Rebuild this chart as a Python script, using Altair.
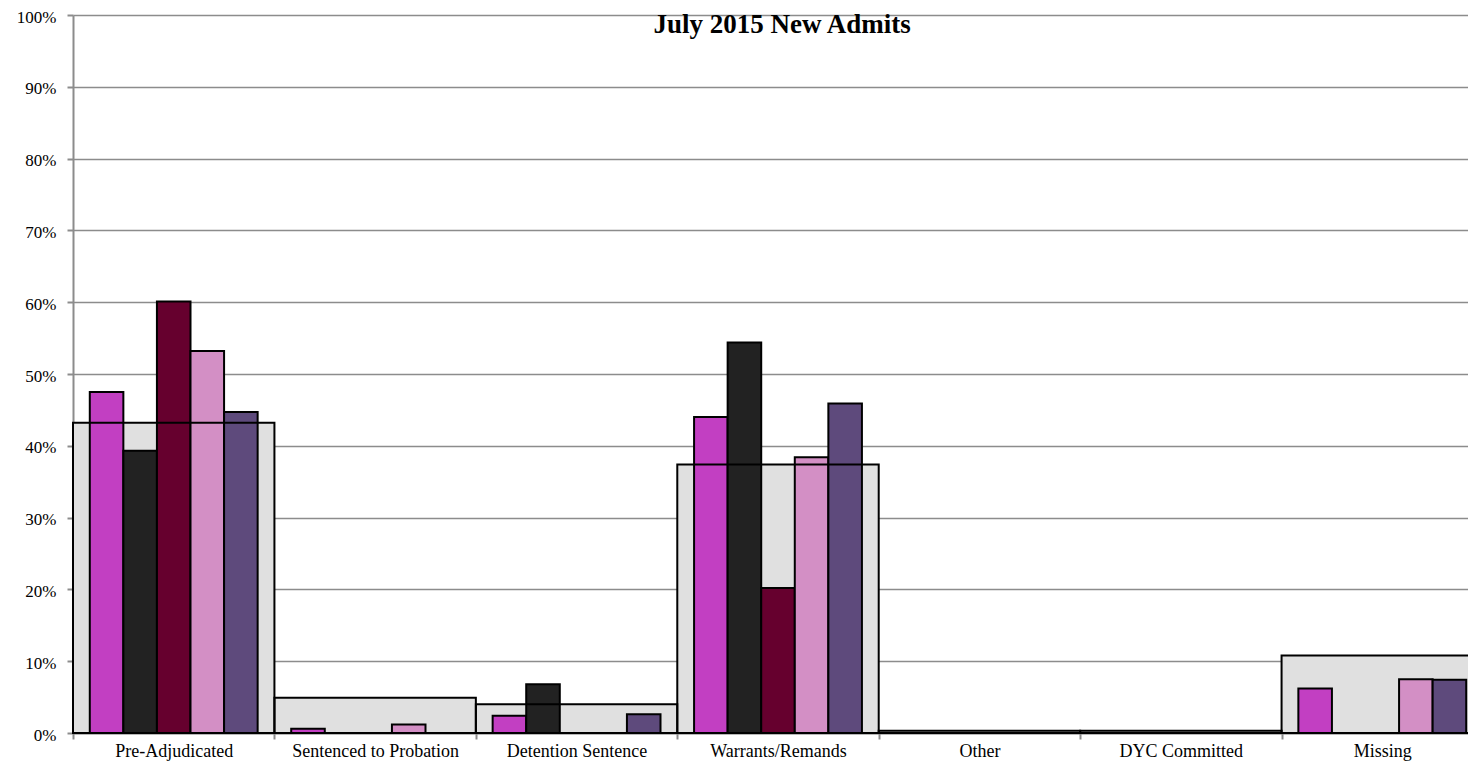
import altair as alt
import pandas as pd

title_text = "July 2015 New Admits"
categories = ["Pre-Adjudicated", "Sentenced to Probation", "Detention Sentence",
              "Warrants/Remands", "Other", "DYC Committed", "Missing"]
total = [43.2, 4.9, 4.0, 37.4, 0.3, 0.3, 10.8]
series_names = ["Group 1", "Group 2", "Group 3", "Group 4", "Group 5"]
s1 = [47.5, 0.6, 2.4, 44.0, 0.0, 0.0, 6.2]
s2 = [39.3, 0.0, 6.8, 54.4, 0.0, 0.0, 0.0]
s3 = [60.1, 0.0, 0.0, 20.2, 0.0, 0.0, 0.0]
s4 = [53.2, 1.2, 0.0, 38.4, 0.0, 0.0, 7.5]
s5 = [44.7, 0.0, 2.6, 45.9, 0.0, 0.0, 7.4]
series_colors = ["#c23fc2", "#222222", "#66002e", "#d38fc5", "#5e4a7c"]
y_ticks = [i / 10 for i in range(11)]

W, H = 1395, 718
BAND_SPAN = 1410
FONT = "Liberation Serif"

tot_df = pd.DataFrame({"cat": categories, "value": [v / 100 for v in total]})
rows = []
for name, vals in zip(series_names, [s1, s2, s3, s4, s5]):
    for c, v in zip(categories, vals):
        rows.append({"cat": c, "series": name, "value": v / 100})
bar_df = pd.DataFrame(rows)

x_enc = alt.X("cat:N", sort=categories, title=None,
              scale=alt.Scale(paddingInner=0, paddingOuter=0, range=[0, BAND_SPAN]),
              axis=alt.Axis(tickBand="extent", ticks=True, tickSize=6, tickColor="#8c8c8c",
                            tickWidth=2, domainColor="#8c8c8c", domainWidth=2,
                            labelAngle=0, labelFont=FONT, labelFontSize=18, labelLimit=0,
                            labelColor="#000000", labelPadding=3, grid=False))
y_enc = alt.Y("value:Q", title=None,
              scale=alt.Scale(domain=[0, 1], nice=False),
              axis=alt.Axis(values=y_ticks, format=".0%", tickSize=6, tickColor="#8c8c8c",
                            tickWidth=2, domainColor="#8c8c8c", domainWidth=2,
                            gridColor="#8c8c8c", gridWidth=1.6, labelFont=FONT,
                            labelFontSize=17, labelColor="#000000", labelPadding=11,
                            labelOffset=2))

back = alt.Chart(tot_df).mark_bar(color="#e0e0e0", strokeWidth=0).encode(x=x_enc, y=y_enc)

bars = alt.Chart(bar_df).transform_filter("datum.value > 0").mark_bar(
    stroke="#000000", strokeWidth=2
).encode(
    x=x_enc,
    y=y_enc,
    xOffset=alt.XOffset("series:N", sort=series_names,
                        scale=alt.Scale(paddingInner=0, paddingOuter=0.5)),
    color=alt.Color("series:N", sort=series_names,
                    scale=alt.Scale(domain=series_names, range=series_colors), legend=None),
)

outline = alt.Chart(tot_df).mark_bar(fillOpacity=0, stroke="#000000", strokeWidth=2).encode(
    x=x_enc, y=y_enc)

title = alt.Chart(pd.DataFrame({"t": [title_text]})).mark_text(
    font=FONT, fontSize=27, fontWeight="bold", color="#000000", baseline="alphabetic",
    align="center"
).encode(text="t:N", x=alt.value(709), y=alt.value(18))

chart = alt.layer(back, bars, outline, title).properties(
    width=W, height=H,
    autosize=alt.AutoSizeParams(type="none"),
    padding={"left": 65, "top": 7, "right": 0, "bottom": 30},
).configure_view(stroke=None)

chart.save("out.html", embed_options={"renderer": "svg", "actions": False})
